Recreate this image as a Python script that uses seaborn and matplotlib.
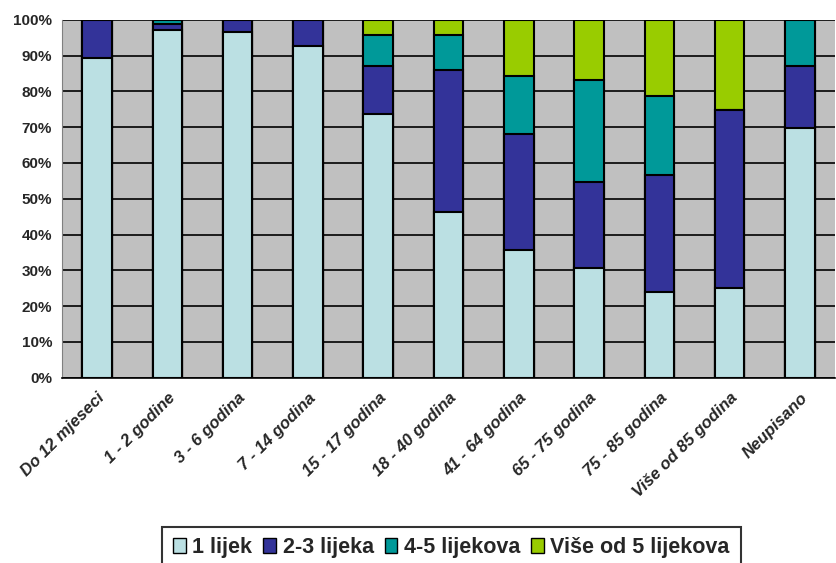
import numpy as np
import pandas as pd
import matplotlib
matplotlib.use('agg')
import matplotlib.pyplot as plt
import matplotlib.transforms as mtransforms
import seaborn as sns
from matplotlib.patches import Patch

categories = ['Do 12 mjeseci', '1 - 2 godine', '3 - 6 godina', '7 - 14 godina', '15 - 17 godina',
              '18 - 40 godina', '41 - 64 godina', '65 - 75 godina', '75 - 85 godina',
              'Više od 85 godina', 'Neupisano']
jedan_lijek = [89.3, 97.2, 96.6, 92.7, 73.7, 46.4, 35.8, 30.7, 24.0, 25.1, 69.8]
dva_tri = [10.7, 1.6, 3.4, 7.3, 13.5, 39.6, 32.4, 24.0, 32.5, 49.8, 17.4]
cetiri_pet = [0.0, 1.2, 0.0, 0.0, 8.4, 9.6, 16.2, 28.5, 22.3, 0.0, 12.8]
vise_od_pet = [0.0, 0.0, 0.0, 0.0, 4.4, 4.4, 15.6, 16.8, 21.2, 25.1, 0.0]

series_names = ['1 lijek', '2-3 lijeka', '4-5 lijekova', 'Više od 5 lijekova']
colors = ['#BBE0E3', '#333399', '#009999', '#99CC00']

sns.set_style('white')
plt.rcParams['font.family'] = ['Liberation Sans', 'DejaVu Sans']

df = pd.DataFrame({'cat': categories, 's1': jedan_lijek, 's2': dva_tri, 's3': cetiri_pet, 's4': vise_od_pet})
cum = df[['s1', 's2', 's3', 's4']].cumsum(axis=1)

fig = plt.figure(figsize=(8.36, 5.63), dpi=100)
ax = fig.add_axes([0.074, 0.329, 0.925, 0.636])
ax.set_facecolor('#C0C0C0')
ax.set_axisbelow(True)
ax.yaxis.grid(True, color='black', linewidth=1.2)

# draw cumulative tops, biggest first so the lower segments cover them
for i in [3, 2, 1, 0]:
    col = cum.columns[i]
    sns.barplot(x=df['cat'], y=cum[col], color=colors[i], width=0.42,
                edgecolor='black', linewidth=1.5, saturation=1, ax=ax)

ax.set_ylim(0, 100)
ax.set_xlim(-0.5, len(categories) - 0.5)
ax.set_yticks(np.arange(0, 101, 10))
ax.set_yticklabels(['{}%'.format(v) for v in range(0, 101, 10)], fontsize=11, fontweight='bold')
ax.set_xlabel('')
ax.set_ylabel('')
ax.set_xticks(np.arange(len(categories)))
ax.set_xticklabels(categories, rotation=45, ha='right', rotation_mode='anchor',
                   fontsize=12, fontweight='bold', fontstyle='italic')
offset = mtransforms.ScaledTranslation(0.1, 0, fig.dpi_scale_trans)
for lab in ax.get_xticklabels():
    lab.set_transform(lab.get_transform() + offset)
ax.tick_params(axis='x', which='major', length=0, pad=9)
ax.set_xticks(np.arange(len(categories) + 1) - 0.5, minor=True)
ax.tick_params(axis='x', which='minor', length=5, width=1.2, color='black', direction='out')
ax.tick_params(axis='y', length=5, width=1.2, color='black', direction='out', pad=2)

for s in ['top', 'right']:
    ax.spines[s].set_visible(False)
ax.spines['left'].set_color('#808080')
ax.spines['bottom'].set_color('black')
ax.spines['bottom'].set_linewidth(1.2)

handles = [Patch(facecolor=c, edgecolor='black', label=n) for c, n in zip(colors, series_names)]
leg = fig.legend(handles=handles, loc='lower center', bbox_to_anchor=(0.54, -0.03), ncol=4,
                 frameon=True, fancybox=False, edgecolor='black', handlelength=0.6, handleheight=0.7,
                 handletextpad=0.3, columnspacing=0.5, borderpad=0.5,
                 prop={'size': 15.5, 'weight': 'bold'})
leg.get_frame().set_linewidth(1.5)

plt.savefig('out.png', dpi=100)
plt.close()
